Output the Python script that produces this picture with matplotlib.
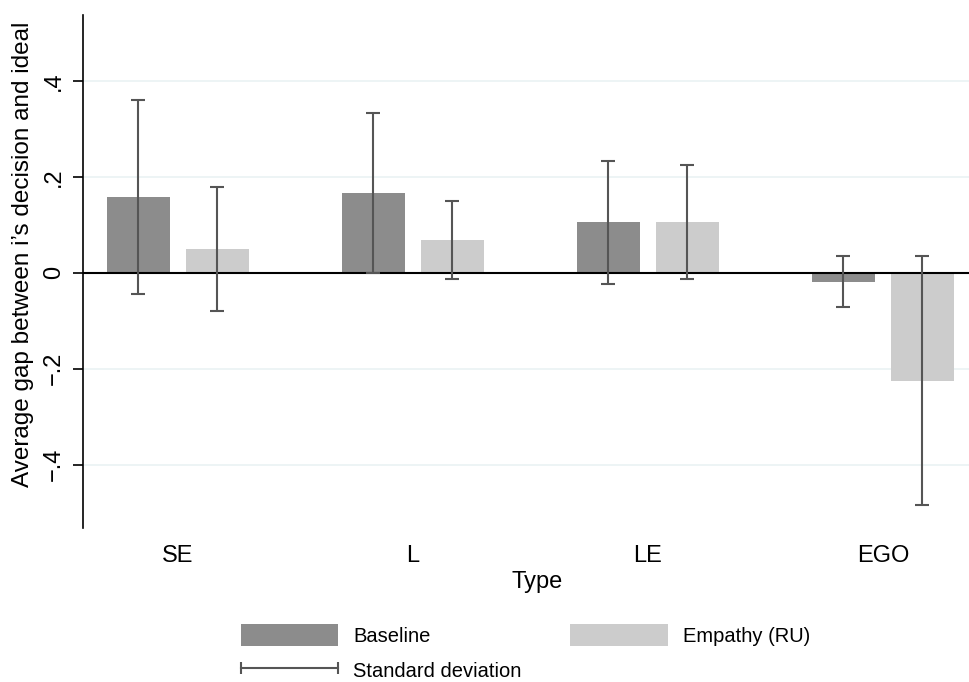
import matplotlib
matplotlib.use("Agg")
import matplotlib.pyplot as plt
import numpy as np
from matplotlib.patches import Patch
from matplotlib.lines import Line2D
from matplotlib.legend_handler import HandlerLine2D

plt.rcParams['font.family'] = ['Liberation Sans', 'DejaVu Sans']

# mean gap and standard deviation per type
types = ['SE', 'L', 'LE', 'EGO']
baseline_mean = [0.158, 0.166, 0.105, -0.019]
baseline_sd = [0.202, 0.167, 0.128, 0.053]
empathy_mean = [0.049, 0.068, 0.105, -0.225]
empathy_sd = [0.129, 0.082, 0.119, 0.259]

dark = '#8c8c8c'
light = '#cccccc'
err_col = '#555555'

fig = plt.figure(figsize=(9.69, 6.82), dpi=100)
# plot region runs a little past the right edge of the figure
ax = fig.add_axes([83 / 969, 1 - 528 / 682, (991 - 83) / 969, (528 - 15) / 682])

x = np.arange(len(types))
w = 0.268
off = 0.168

ax.bar(x - off, baseline_mean, w, color=dark, zorder=2)
ax.bar(x + off, empathy_mean, w, color=light, zorder=2)
ax.errorbar(x - off, baseline_mean, yerr=baseline_sd, fmt='none', ecolor=err_col,
            elinewidth=1.5, capsize=4.7, capthick=1.5, zorder=4)
ax.errorbar(x + off, empathy_mean, yerr=empathy_sd, fmt='none', ecolor=err_col,
            elinewidth=1.5, capsize=4.7, capthick=1.5, zorder=4)

ax.axhline(0, color='black', lw=1.5, zorder=3)
for g in [-0.4, -0.2, 0.2, 0.4]:
    ax.axhline(g, color='#eaf2f3', lw=1.2, zorder=1)

ax.set_xlim(-0.404, 3.46)
ax.set_ylim(-0.532, 0.537)
ax.set_xticks(x)
ax.set_xticklabels(types)
ax.set_yticks([-0.4, -0.2, 0, 0.2, 0.4])
ax.set_yticklabels(['\u2212.4', '\u2212.2', '0', '.2', '.4'], rotation=90, va='center')

for s in ['top', 'right', 'bottom']:
    ax.spines[s].set_visible(False)
ax.spines['left'].set_linewidth(1.2)

ax.tick_params(axis='x', length=0, pad=12, labelsize=17)
ax.tick_params(axis='y', length=7, width=1.2, pad=6, labelsize=17)

ax.set_xlabel('Type', fontsize=17, labelpad=3)
ax.set_ylabel('Average gap between i\u2019s decision and ideal', fontsize=17.5)
ax.yaxis.set_label_coords(-0.0553 * 886 / 908, (528 - 254) / 513)

h_base = Patch(facecolor=dark, edgecolor='none')
h_emp = Patch(facecolor=light, edgecolor='none')
h_sd = Line2D([0, 1], [0, 0], color=err_col, lw=1.5, marker='|', markersize=8,
              markeredgewidth=1.5)

fig.legend([h_base, h_sd, h_emp], ['Baseline', 'Standard deviation', 'Empathy (RU)'],
           ncol=2, loc='upper left', bbox_to_anchor=(240.7 / 969, 1 - 624 / 682),
           frameon=False, fontsize=14.5, borderpad=0, borderaxespad=0,
           handlelength=4.85, handleheight=1.29, handletextpad=0.73,
           columnspacing=2.43, labelspacing=0.68, numpoints=2,
           handler_map={h_sd: HandlerLine2D(numpoints=2, marker_pad=0)})

fig.savefig('out.png', dpi=100)
